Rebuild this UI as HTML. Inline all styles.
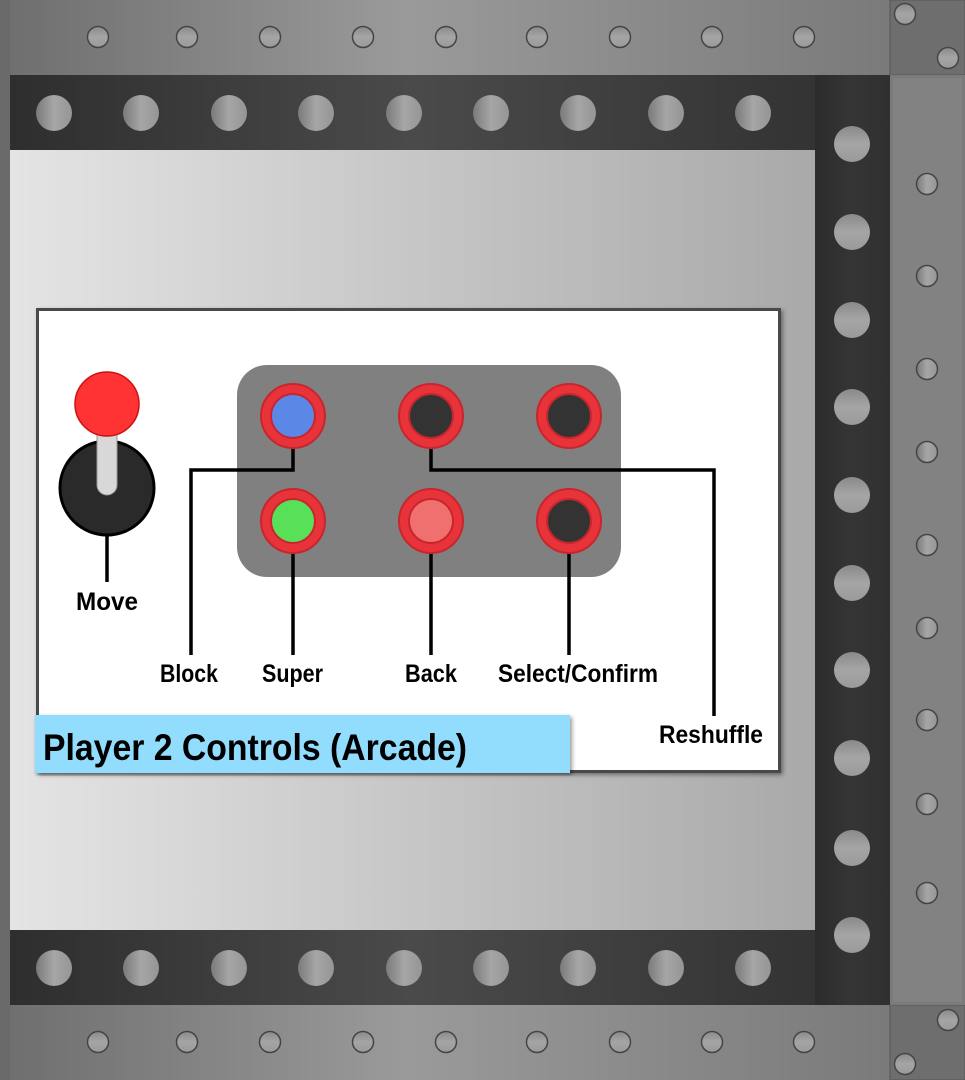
<!DOCTYPE html>
<html><head><meta charset="utf-8"><style>
html,body{margin:0;padding:0;background:#777;}
svg{display:block}
text{font-family:"Liberation Sans Narrow","Liberation Sans",sans-serif;font-weight:bold;fill:#000}
</style></head><body>
<svg width="965" height="1080" viewBox="0 0 965 1080" xmlns="http://www.w3.org/2000/svg">
<defs>
<linearGradient id="bar" x1="0" x2="1" y1="0" y2="0">
<stop offset="0" stop-color="#6f6f6f"/><stop offset="0.45" stop-color="#9a9a9a"/><stop offset="1" stop-color="#7a7a7a"/></linearGradient>
<linearGradient id="dark" x1="0" x2="1" y1="0" y2="0">
<stop offset="0" stop-color="#2e2e2e"/><stop offset="0.5" stop-color="#4a4a4a"/><stop offset="1" stop-color="#333"/></linearGradient>
<linearGradient id="darkv" x1="0" x2="1" y1="0" y2="0">
<stop offset="0" stop-color="#2c2c2c"/><stop offset="0.5" stop-color="#353535"/><stop offset="1" stop-color="#303030"/></linearGradient>
<linearGradient id="panel" x1="0" x2="1" y1="0" y2="0">
<stop offset="0" stop-color="#e4e4e4"/><stop offset="1" stop-color="#a9a9a9"/></linearGradient>
<linearGradient id="scrH" x1="0" x2="1" y1="0" y2="0">
<stop offset="0" stop-color="#7a7a7a"/><stop offset="0.5" stop-color="#a6a6a6"/><stop offset="1" stop-color="#959595"/></linearGradient>
<linearGradient id="scrV" x1="0" x2="0" y1="0" y2="1">
<stop offset="0" stop-color="#8a8a8a"/><stop offset="0.5" stop-color="#a5a5a5"/><stop offset="1" stop-color="#9a9a9a"/></linearGradient>
<filter id="sh" x="-5%" y="-5%" width="110%" height="110%"><feDropShadow dx="2" dy="2" stdDeviation="2" flood-opacity="0.4"/></filter>
</defs>
<rect x="0" y="0" width="965" height="1080" fill="#6a6a6a"/>
<rect x="10" y="0" width="880" height="75" fill="url(#bar)"/>
<rect x="10" y="1005" width="880" height="75" fill="url(#bar)"/>
<rect x="890" y="0" width="75" height="75" fill="#6e6e6e" stroke="#555" stroke-width="1"/>
<rect x="890" y="1005" width="75" height="75" fill="#6e6e6e" stroke="#555" stroke-width="1"/>
<rect x="890" y="75" width="75" height="930" fill="#7b7b7b"/>
<rect x="893" y="78" width="69" height="924" fill="#828282"/>
<rect x="10" y="75" width="805" height="75" fill="url(#dark)"/>
<rect x="10" y="930" width="805" height="75" fill="url(#dark)"/>
<rect x="815" y="75" width="75" height="930" fill="url(#darkv)"/>
<rect x="10" y="150" width="805" height="780" fill="url(#panel)"/>
<g fill="url(#scrV)" stroke="#444" stroke-width="1.5">
<circle cx="98" cy="37" r="10.5"/><circle cx="187" cy="37" r="10.5"/><circle cx="270" cy="37" r="10.5"/><circle cx="363" cy="37" r="10.5"/><circle cx="446" cy="37" r="10.5"/><circle cx="537" cy="37" r="10.5"/><circle cx="620" cy="37" r="10.5"/><circle cx="712" cy="37" r="10.5"/><circle cx="804" cy="37" r="10.5"/>
<circle cx="98" cy="1042" r="10.5"/><circle cx="187" cy="1042" r="10.5"/><circle cx="270" cy="1042" r="10.5"/><circle cx="363" cy="1042" r="10.5"/><circle cx="446" cy="1042" r="10.5"/><circle cx="537" cy="1042" r="10.5"/><circle cx="620" cy="1042" r="10.5"/><circle cx="712" cy="1042" r="10.5"/><circle cx="804" cy="1042" r="10.5"/>
<circle cx="905" cy="14" r="10.5"/><circle cx="948" cy="58" r="10.5"/>
<circle cx="948" cy="1020" r="10.5"/><circle cx="905" cy="1064" r="10.5"/>
</g>
<g fill="url(#scrH)" stroke="#444" stroke-width="1.5">
<circle cx="927" cy="184" r="10.5"/><circle cx="927" cy="276" r="10.5"/><circle cx="927" cy="369" r="10.5"/><circle cx="927" cy="452" r="10.5"/><circle cx="927" cy="545" r="10.5"/><circle cx="927" cy="628" r="10.5"/><circle cx="927" cy="720" r="10.5"/><circle cx="927" cy="804" r="10.5"/><circle cx="927" cy="893" r="10.5"/>
</g>
<g fill="url(#scrH)">
<circle cx="54" cy="113" r="18"/><circle cx="141" cy="113" r="18"/><circle cx="229" cy="113" r="18"/><circle cx="316" cy="113" r="18"/><circle cx="404" cy="113" r="18"/><circle cx="491" cy="113" r="18"/><circle cx="578" cy="113" r="18"/><circle cx="666" cy="113" r="18"/><circle cx="753" cy="113" r="18"/>
<circle cx="54" cy="968" r="18"/><circle cx="141" cy="968" r="18"/><circle cx="229" cy="968" r="18"/><circle cx="316" cy="968" r="18"/><circle cx="404" cy="968" r="18"/><circle cx="491" cy="968" r="18"/><circle cx="578" cy="968" r="18"/><circle cx="666" cy="968" r="18"/><circle cx="753" cy="968" r="18"/>
</g>
<g fill="url(#scrV)">
<circle cx="852" cy="144" r="18"/><circle cx="852" cy="232" r="18"/><circle cx="852" cy="320" r="18"/><circle cx="852" cy="407" r="18"/><circle cx="852" cy="495" r="18"/><circle cx="852" cy="583" r="18"/><circle cx="852" cy="670" r="18"/><circle cx="852" cy="758" r="18"/><circle cx="852" cy="848" r="18"/><circle cx="852" cy="935" r="18"/>
</g>
<rect x="37.5" y="309.5" width="742" height="462" fill="#fff" stroke="#4a4a4a" stroke-width="3" filter="url(#sh)"/>
<rect x="237" y="365" width="384" height="212" rx="30" fill="#808080"/>
<g stroke="#000" stroke-width="3.5" fill="none">
<polyline points="293,448 293,470 191,470 191,655"/>
<line x1="293" y1="553" x2="293" y2="655"/>
<line x1="431" y1="553" x2="431" y2="655"/>
<line x1="569" y1="553" x2="569" y2="655"/>
<polyline points="431,448 431,470 714,470 714,716"/>
<line x1="107" y1="535" x2="107" y2="582"/>
</g>
<g stroke="#c8262c" stroke-width="2">
<circle cx="293" cy="416" r="32" fill="#e8333a"/><circle cx="293" cy="416" r="22" fill="#5b87e6"/>
<circle cx="431" cy="416" r="32" fill="#e8333a"/><circle cx="431" cy="416" r="22" fill="#333"/>
<circle cx="569" cy="416" r="32" fill="#e8333a"/><circle cx="569" cy="416" r="22" fill="#333"/>
<circle cx="293" cy="521" r="32" fill="#e8333a"/><circle cx="293" cy="521" r="22" fill="#58e058"/>
<circle cx="431" cy="521" r="32" fill="#e8333a"/><circle cx="431" cy="521" r="22" fill="#f07070"/>
<circle cx="569" cy="521" r="32" fill="#e8333a"/><circle cx="569" cy="521" r="22" fill="#333"/>
</g>
<circle cx="107" cy="488" r="47" fill="#2a2a2a" stroke="#000" stroke-width="3"/>
<rect x="97" y="425" width="20" height="70" rx="10" fill="#d8d8d8" stroke="#999" stroke-width="1"/>
<circle cx="107" cy="404" r="32" fill="#ff3333" stroke="#cc1111" stroke-width="1.5"/>
<g font-size="25" lengthAdjust="spacingAndGlyphs">
<text x="76" y="610" textLength="62" lengthAdjust="spacingAndGlyphs">Move</text>
<text x="160" y="682" textLength="58" lengthAdjust="spacingAndGlyphs">Block</text>
<text x="262" y="682" textLength="61" lengthAdjust="spacingAndGlyphs">Super</text>
<text x="405" y="682" textLength="52" lengthAdjust="spacingAndGlyphs">Back</text>
<text x="498" y="682" textLength="160" lengthAdjust="spacingAndGlyphs">Select/Confirm</text>
<text x="659" y="743" textLength="104" lengthAdjust="spacingAndGlyphs">Reshuffle</text>
</g>
<rect x="35" y="715" width="535" height="58" fill="#92dcfe" filter="url(#sh)"/>
<text x="43" y="760" font-size="37" textLength="424" lengthAdjust="spacingAndGlyphs">Player 2 Controls (Arcade)</text>
</svg>
</body></html>
